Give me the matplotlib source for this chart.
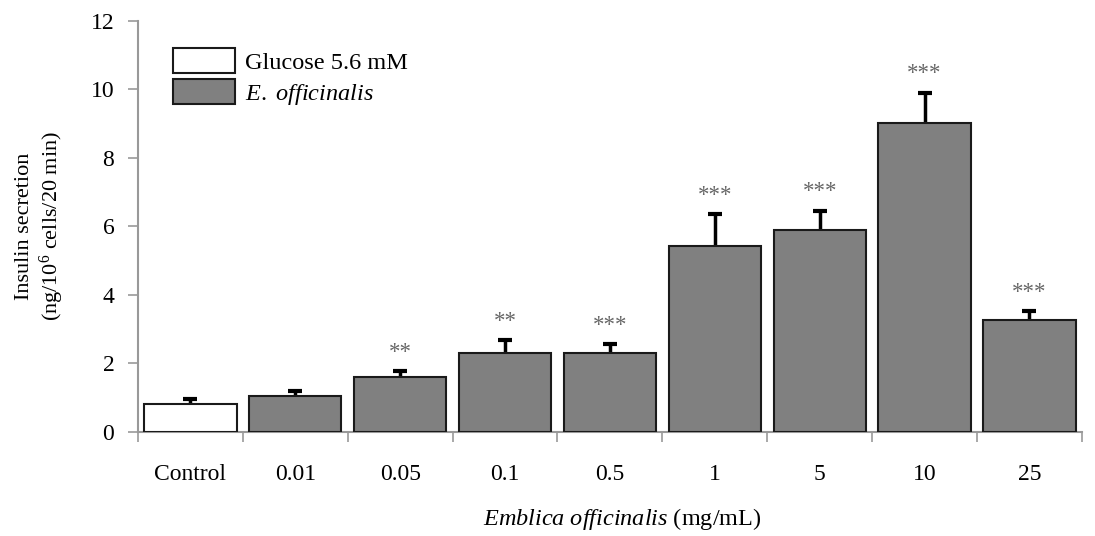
import numpy as np
import matplotlib.pyplot as plt

# data
categories = ["Control", "0.01", "0.05", "0.1", "0.5", "1", "5", "10", "25"]
means = [0.82, 1.05, 1.60, 2.32, 2.32, 5.43, 5.89, 9.01, 3.27]
sem = [0.14, 0.14, 0.17, 0.37, 0.25, 0.93, 0.57, 0.90, 0.26]
stars = ["", "", "**", "**", "***", "***", "***", "***", "***"]

plt.rcParams['font.family'] = ['Liberation Serif', 'DejaVu Serif']
plt.rcParams['mathtext.fontset'] = 'custom'
plt.rcParams['mathtext.rm'] = 'Liberation Serif'
plt.rcParams['mathtext.it'] = 'Liberation Serif:italic'

fig = plt.figure(figsize=(10.95, 5.36), dpi=100)
ax = fig.add_axes([0.126, 0.194, 0.862, 0.767])

x = np.arange(len(categories))
colors = ['white'] + ['#808080'] * (len(categories) - 1)
bars = ax.bar(x, means, width=0.88, color=colors, edgecolor='#1a1a1a', linewidth=1.5, zorder=3)
# error bars sit behind the bars so only the upper half shows
ax.errorbar(x, means, yerr=sem, fmt='none', ecolor='black',
            elinewidth=2.5, capsize=5, capthick=3, zorder=2)

for xi, m, e, s in zip(x, means, sem, stars):
    if s:
        ax.annotate(s, (xi, m + e), xytext=(0, 6), textcoords='offset points',
                    ha='center', va='bottom', fontsize=16.5, color='#666666')

# legend
ax.legend([bars[0], bars[1]], ["Glucose 5.6 mM", "$\\it{E.\\ officinalis}$"],
          loc='upper left', bbox_to_anchor=(0.037, 0.934), frameon=False,
          borderaxespad=0, borderpad=0,
          fontsize=17.5, handlelength=2.55, handleheight=1.22, handletextpad=0.42,
          labelspacing=0.2)

ax.set_xlim(-0.5, len(categories) - 0.5)
ax.set_ylim(0, 12)
ax.set_yticks(np.arange(0, 13, 2))
ax.set_xticks(x)
ax.set_xticklabels(categories)
ax.set_xticks(np.arange(-0.5, len(categories)), minor=True)
ax.tick_params(axis='x', which='major', length=0, pad=23, labelsize=17)
ax.tick_params(axis='x', which='minor', length=7, color='#999999', width=1.2)
ax.tick_params(axis='y', length=7, color='#999999', width=1.2, labelsize=17, pad=10)

for side in ['top', 'right']:
    ax.spines[side].set_visible(False)
for side in ['left', 'bottom']:
    ax.spines[side].set_color('#999999')
    ax.spines[side].set_linewidth(1.5)

ax.set_ylabel("Insulin secretion\n(ng/10$^6$ cells/20 min)", fontsize=16, labelpad=18)
ax.set_xlabel("$\\it{Emblica\\ officinalis}$ (mg/mL)", fontsize=17.5, labelpad=15)
ax.xaxis.label.set_x(0.513)

fig.savefig("out.png", dpi=100)
